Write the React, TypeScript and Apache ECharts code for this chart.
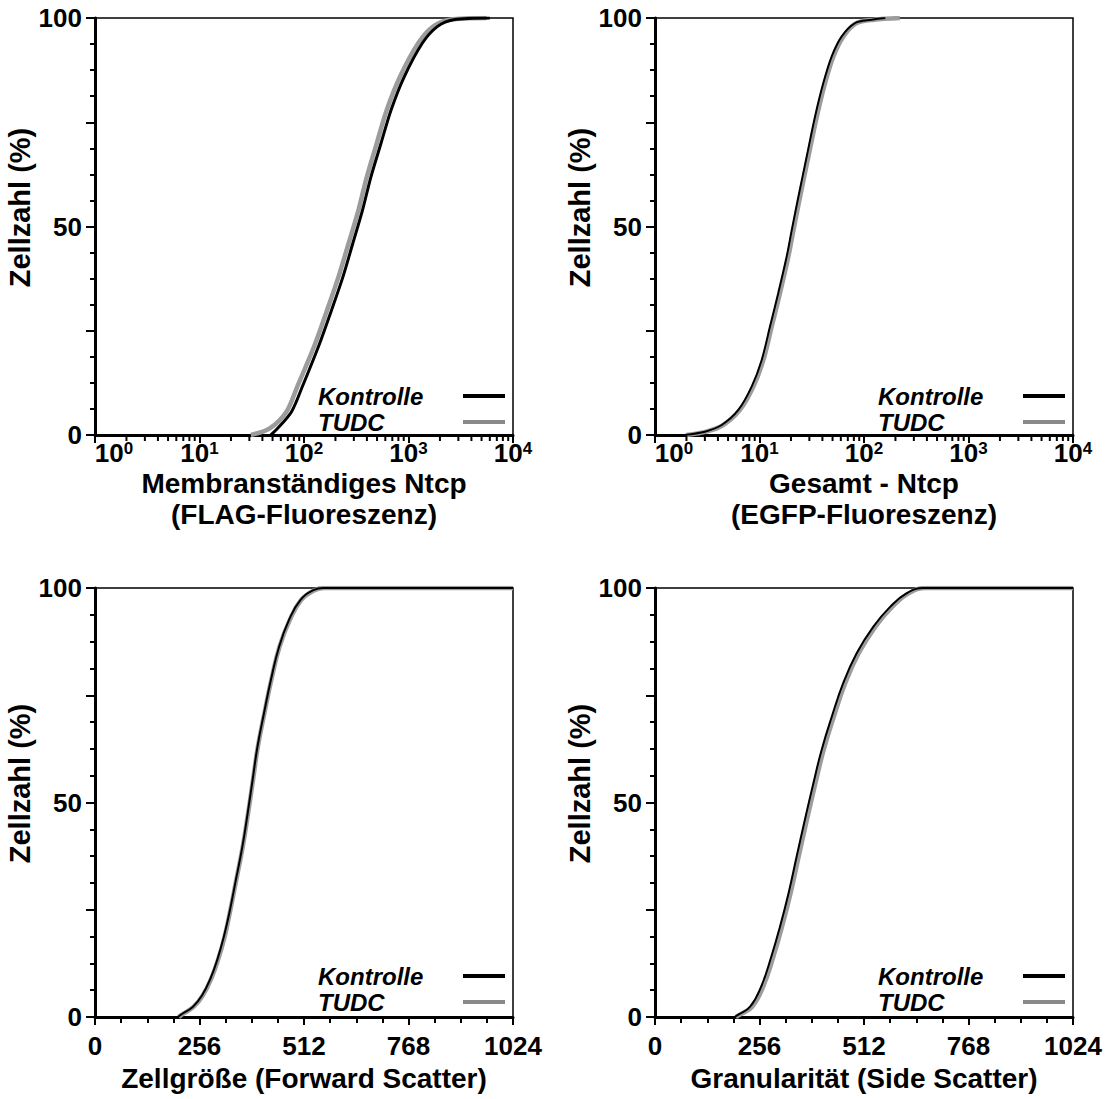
import React, { useEffect, useRef } from "react";
import * as echarts from "echarts";

const FONT = '"Liberation Sans", Arial, Helvetica, sans-serif';

// Y axis
const yTickLabels = ["0", "50", "100"];

// Log axis minor tick positions (2..9 per decade)
const logMinorTicks = [
  2, 3, 4, 5, 6, 7, 8, 9,
  20, 30, 40, 50, 60, 70, 80, 90,
  200, 300, 400, 500, 600, 700, 800, 900,
  2000, 3000, 4000, 5000, 6000, 7000, 8000, 9000,
];

// Panel 1: Membranständiges Ntcp (FLAG-Fluoreszenz), log axis
const flagKontrolleX = [48, 56, 76, 95, 140, 182, 235, 292, 362, 436, 545, 680, 910, 1360, 1900, 2700, 6000];
const flagKontrolleY = [0, 1.6, 5.6, 11.2, 21.7, 29.7, 37.8, 45.8, 53.8, 61.8, 69.9, 77.9, 85.9, 94, 98, 99.6, 100];
const flagTudcX = [31, 47, 68, 85, 127, 165, 213, 266, 331, 398, 496, 618, 829, 1242, 1730, 2495, 5600];
const flagTudcY = [0, 1.6, 5.6, 11.2, 21.7, 29.7, 37.8, 45.8, 53.8, 61.8, 69.9, 77.9, 85.9, 94, 98, 99.6, 100];

// Panel 2: Gesamt - Ntcp (EGFP-Fluoreszenz), log axis
const egfpKontrolleX = [1.9, 3.0, 4.35, 6.27, 8.41, 10.5, 12.6, 15.1, 18.2, 20.3, 23.5, 28.3, 34, 40.8, 49.1, 61.2, 82, 118, 160];
const egfpKontrolleY = [0, 0.8, 2.4, 6, 11.6, 18, 26, 34, 42.8, 49, 57, 66.8, 76.4, 84.4, 90.8, 95.6, 98.8, 99.6, 100];
const egfpTudcX = [2.0, 3.1, 4.5, 6.5, 8.75, 10.9, 13.1, 15.7, 18.9, 21.1, 24.4, 29.4, 35.4, 42.4, 51, 63.6, 85, 125, 220];
const egfpTudcY = [0, 0.8, 2.4, 6, 11.6, 18, 26, 34, 42.8, 49, 57, 66.8, 76.4, 84.4, 90.8, 95.6, 98.8, 99.6, 100];

// Panel 3: Zellgröße (Forward Scatter), linear 0..1024
const fscKontrolleX = [203, 210, 240, 262, 283, 300, 315, 329, 345, 361, 374, 386, 398, 414, 431, 451, 475, 503, 535, 559, 1024];
const fscKontrolleY = [0, 0.5, 2.4, 5.0, 9.0, 13.5, 18.5, 24.2, 31.9, 39.7, 47.5, 55.2, 63, 70.8, 78.6, 86.3, 92.5, 97.2, 99.5, 100, 100];
const fscTudcX = [205, 212, 242, 264, 285, 302, 317, 330, 346, 362, 375, 387, 399, 415, 432, 452, 477, 505, 538, 562, 1024];
const fscTudcY = [0, 0.5, 2.4, 5.0, 9.0, 13.5, 18.5, 24.2, 31.9, 39.7, 47.5, 55.2, 63, 70.8, 78.6, 86.3, 92.5, 97.2, 99.5, 100, 100];

// Panel 4: Granularität (Side Scatter), linear 0..1024
const sscKontrolleX = [195, 205, 233, 260, 285, 306, 327, 347, 367, 388, 408, 433, 461, 494, 535, 576, 617, 658, 1024];
const sscKontrolleY = [0, 0.6, 2.4, 7.1, 14.1, 21, 28.8, 37.4, 45.9, 54.5, 62.2, 70, 77.8, 84.8, 91, 95.6, 98.8, 100, 100];
const sscTudcX = [198, 209, 238, 265, 290, 311, 332, 352, 372, 393, 413, 438, 466, 499, 540, 581, 622, 665, 1024];
const sscTudcY = [0, 0.6, 2.4, 7.1, 14.1, 21, 28.8, 37.4, 45.9, 54.5, 62.2, 70, 77.8, 84.8, 91, 95.6, 98.8, 100, 100];

const seriesNames = ["Kontrolle", "TUDC"];
const linTickLabels = ["0", "256", "512", "768", "1024"];

const BLACK = "#000000";
const GRAY = "#9c9c9c";

type Panel = {
  grid: { left: number; top: number; width: number; height: number };
  log: boolean;
  name: string;
  kx: number[]; ky: number[]; tx: number[]; ty: number[];
  legendLeft: number; legendTop: number;
  kWidth: number;
};

const panels: Panel[] = [
  {
    grid: { left: 95, top: 18, width: 418, height: 417 }, log: true,
    name: "Membranständiges Ntcp\n(FLAG-Fluoreszenz)",
    kx: flagKontrolleX, ky: flagKontrolleY, tx: flagTudcX, ty: flagTudcY,
    legendLeft: 313, legendTop: 379, kWidth: 3,
  },
  {
    grid: { left: 655, top: 18, width: 418, height: 417 }, log: true,
    name: "Gesamt - Ntcp\n(EGFP-Fluoreszenz)",
    kx: egfpKontrolleX, ky: egfpKontrolleY, tx: egfpTudcX, ty: egfpTudcY,
    legendLeft: 873, legendTop: 379, kWidth: 2,
  },
  {
    grid: { left: 95, top: 588, width: 418, height: 429 }, log: false,
    name: "Zellgröße (Forward Scatter)",
    kx: fscKontrolleX, ky: fscKontrolleY, tx: fscTudcX, ty: fscTudcY,
    legendLeft: 313, legendTop: 959, kWidth: 2,
  },
  {
    grid: { left: 655, top: 588, width: 418, height: 429 }, log: false,
    name: "Granularität (Side Scatter)",
    kx: sscKontrolleX, ky: sscKontrolleY, tx: sscTudcX, ty: sscTudcY,
    legendLeft: 873, legendTop: 959, kWidth: 2,
  },
];

const zip = (xs: number[], ys: number[]) => xs.map((x, i) => [x, ys[i]]);

const titleStyle = { fontFamily: FONT, fontWeight: "bold", fontSize: 28, color: "#000" };

function buildOption() {
  const grid: any[] = [];
  const xAxis: any[] = [];
  const yAxis: any[] = [];
  const series: any[] = [];
  const legend: any[] = [];

  panels.forEach((p, i) => {
    grid.push({ ...p.grid, show: true, borderColor: "#000", borderWidth: 1.5, backgroundColor: "transparent" });

    const common = {
      gridIndex: i,
      axisLine: { show: true, onZero: false, lineStyle: { color: "#000", width: 3 } },
      splitLine: { show: false },
      minorSplitLine: { show: false },
    };

    if (p.log) {
      xAxis.push({
        ...common,
        type: "log",
        logBase: 10,
        min: 1,
        max: 10000,
        name: p.name,
        nameLocation: "middle",
        nameGap: 33,
        nameMoveOverlap: false,
        nameTextStyle: { ...titleStyle, lineHeight: 31, verticalAlign: "top" },
        axisTick: { show: true, inside: false, length: 8, lineStyle: { color: "#000", width: 2 } },
        axisLabel: {
          show: true,
          margin: 5,
          color: "#000",
          fontFamily: FONT,
          fontWeight: "bold",
          fontSize: 26,
          lineHeight: 26,
          showMinLabel: true,
          showMaxLabel: true,
          formatter: (v: number) => {
            const e = Math.round(Math.log10(v));
            return e === 0 ? `{pad|}{b|10}{s|${e}}` : `{b|10}{s|${e}}`;
          },
          rich: {
            pad: { width: 38, lineHeight: 26 },
            b: { fontFamily: FONT, fontWeight: "bold", fontSize: 26, lineHeight: 26, color: "#000" },
            s: { fontFamily: FONT, fontWeight: "bold", fontSize: 17, lineHeight: 17, color: "#000", padding: [0, 0, 9, 0] },
          },
        },
      });
    } else {
      xAxis.push({
        ...common,
        type: "value",
        min: 0,
        max: 1024,
        interval: 256,
        name: p.name,
        nameLocation: "middle",
        nameGap: 46,
        nameTextStyle: { ...titleStyle, lineHeight: 30 },
        axisTick: { show: true, inside: false, length: 8, lineStyle: { color: "#000", width: 2 } },
        minorTick: { show: true, splitNumber: 4, length: 6, lineStyle: { color: "#000", width: 2 } },
        axisLabel: {
          show: true,
          margin: 16,
          color: "#000",
          fontFamily: FONT,
          fontWeight: "bold",
          fontSize: 26,
          showMinLabel: true,
          showMaxLabel: true,
          formatter: (v: number) => linTickLabels[Math.round(v / 256)] ?? "",
        },
      });
    }

    yAxis.push({
      ...common,
      type: "value",
      min: 0,
      max: 100,
      interval: 25,
      name: "Zellzahl (%)",
      nameLocation: "middle",
      nameGap: 46,
      nameTextStyle: { ...titleStyle, fontSize: 29, padding: [0, 0, 0, 38] },
      axisTick: { show: true, inside: false, length: 9, lineStyle: { color: "#000", width: 2 } },
      minorTick: { show: true, splitNumber: 4, length: 5, lineStyle: { color: "#000", width: 2 } },
      axisLabel: {
        show: true,
        margin: 13,
        color: "#000",
        fontFamily: FONT,
        fontWeight: "bold",
        fontSize: 26,
        showMinLabel: true,
        showMaxLabel: true,
        formatter: (v: number) => (v === 0 ? yTickLabels[0] : v === 50 ? yTickLabels[1] : v === 100 ? yTickLabels[2] : ""),
      },
    });

    const smooth = p.log ? 0.3 : 0.45;

    series.push({
      name: seriesNames[1],
      type: "line",
      xAxisIndex: i,
      yAxisIndex: i,
      data: zip(p.tx, p.ty),
      showSymbol: false,
      symbol: "none",
      smooth,
      color: GRAY,
      lineStyle: { color: GRAY, width: 4.5 },
      z: 3,
      silent: true,
    });
    series.push({
      name: seriesNames[0],
      type: "line",
      xAxisIndex: i,
      yAxisIndex: i,
      data: zip(p.kx, p.ky),
      showSymbol: false,
      symbol: "none",
      smooth,
      color: BLACK,
      lineStyle: { color: BLACK, width: p.kWidth },
      z: 4,
      silent: true,
    });

    if (p.log) {
      series.push({
        type: "custom",
        xAxisIndex: i,
        yAxisIndex: i,
        clip: false,
        silent: true,
        z: 6,
        data: logMinorTicks.map((v) => [v, 0]),
        encode: { x: 0, y: 1 },
        renderItem: (_params: any, api: any) => {
          const pt = api.coord([api.value(0), 0]);
          return {
            type: "line",
            shape: { x1: pt[0], y1: pt[1] + 1, x2: pt[0], y2: pt[1] + 6 },
            style: { stroke: "#000", lineWidth: 2 },
          };
        },
      });
    }

    legend.push({
      show: true,
      orient: "vertical",
      left: p.legendLeft,
      top: p.legendTop,
      align: "right",
      itemGap: 2,
      itemWidth: 42,
      itemHeight: 4,
      icon: "rect",
      selectedMode: false,
      data: [
        { name: seriesNames[0], itemStyle: { color: BLACK } },
        { name: seriesNames[1], itemStyle: { color: "#8a8a8a" } },
      ],
      formatter: (n: string) => `{a|${n}}`,
      textStyle: {
        color: "#000",
        rich: {
          a: {
            fontFamily: FONT,
            fontWeight: "bold",
            fontStyle: "italic",
            fontSize: 24,
            color: "#000",
            width: 140,
            align: "left",
          },
        },
      },
    });
  });

  return {
    animation: false,
    backgroundColor: "#ffffff",
    textStyle: { fontFamily: FONT },
    grid,
    xAxis,
    yAxis,
    series,
    legend,
  };
}

export default function App() {
  const ref = useRef<HTMLDivElement>(null);
  useEffect(() => {
    if (!ref.current) return;
    const chart = echarts.init(ref.current, undefined, { renderer: "svg" });
    chart.setOption(buildOption() as any);
    return () => chart.dispose();
  }, []);
  return (
    <div
      ref={ref}
      style={{ position: "absolute", left: 0, top: 0, width: 1112, height: 1099, background: "#fff" }}
    />
  );
}
